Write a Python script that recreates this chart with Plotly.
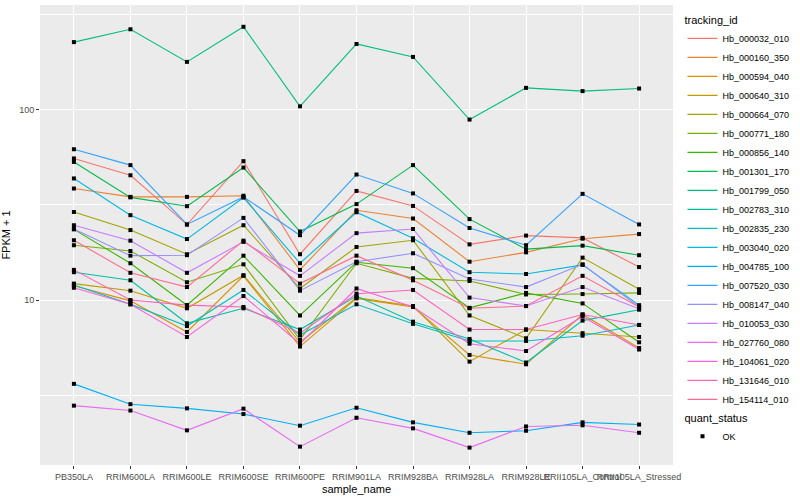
import plotly.graph_objects as go

samples = ["PB350LA", "RRIM600LA", "RRIM600LE", "RRIM600SE", "RRIM600PE", "RRIM901LA",
           "RRIM928BA", "RRIM928LA", "RRIM928LE", "RRII105LA_Control", "RRII105LA_Stressed"]

tracking_ids = ["Hb_000032_010", "Hb_000160_350", "Hb_000594_040", "Hb_000640_310", "Hb_000664_070",
                "Hb_000771_180", "Hb_000856_140", "Hb_001301_170", "Hb_001799_050", "Hb_002783_310",
                "Hb_002835_230", "Hb_003040_020", "Hb_004785_100", "Hb_007520_030", "Hb_008147_040",
                "Hb_010053_030", "Hb_027760_080", "Hb_104061_020", "Hb_131646_010", "Hb_154114_010"]

colors = ["#F8766D", "#EA8331", "#D89000", "#C09B00", "#A3A500", "#7CAE00", "#39B600", "#00BB4E",
          "#00BF7D", "#00C1A3", "#00BFC4", "#00BAE0", "#00B0F6", "#35A2FF", "#9590FF", "#C77CFF",
          "#E76BF3", "#FA62DB", "#FF62BC", "#FF6C91"]

# FPKM + 1 per tracking_id, in sample order
Hb_000032_010 = [55.4, 45.2, 24.9, 53.6, 17.4, 37.4, 31.2, 19.6, 21.8, 21.2, 14.9]
Hb_000160_350 = [38.5, 34.8, 34.8, 35.3, 14.4, 29.6, 26.8, 15.9, 17.8, 21.0, 22.2]
Hb_000594_040 = [11.9, 9.9, 6.8, 13.4, 5.7, 10.2, 9.2, 5.15, 4.6, 8.4, 5.6]
Hb_000640_310 = [12.2, 11.2, 9.05, 13.5, 6.0, 10.3, 9.3, 4.75, 7.0, 6.7, 6.4]
Hb_000664_070 = [29.0, 23.3, 17.4, 24.7, 11.5, 19.0, 20.6, 8.3, 6.3, 16.7, 11.4]
Hb_000771_180 = [19.4, 18.1, 12.4, 15.4, 6.2, 15.6, 13.0, 12.6, 10.7, 10.75, 10.9]
Hb_000856_140 = [23.5, 15.6, 9.4, 17.1, 8.3, 15.8, 14.7, 9.1, 10.9, 9.6, 6.0]
Hb_001301_170 = [53.1, 34.6, 31.1, 49.6, 22.9, 31.9, 51.1, 26.6, 18.5, 19.3, 17.2]
Hb_001799_050 = [226, 264, 178, 272, 104, 221, 189, 88.6, 130, 125, 129]
Hb_002783_310 = [14.0, 12.7, 7.55, 9.05, 7.0, 10.5, 7.7, 6.25, 4.7, 7.8, 8.9]
Hb_002835_230 = [12.0, 9.5, 7.3, 11.3, 6.55, 9.5, 7.5, 6.1, 6.1, 6.5, 7.4]
Hb_003040_020 = [43.5, 27.9, 20.9, 34.5, 15.6, 28.9, 21.1, 14.0, 13.7, 15.3, 9.4]
Hb_004785_100 = [3.63, 2.84, 2.70, 2.52, 2.19, 2.72, 2.28, 2.01, 2.06, 2.28, 2.22]
Hb_007520_030 = [61.9, 51.1, 24.95, 34.8, 21.9, 45.6, 36.3, 23.9, 19.4, 36.1, 24.95]
Hb_008147_040 = [23.6, 17.1, 17.2, 27.0, 11.2, 15.9, 17.6, 12.9, 11.7, 15.4, 9.2]
Hb_010053_030 = [24.7, 20.5, 13.9, 20.2, 13.4, 22.45, 23.6, 10.3, 9.3, 11.7, 9.0]
Hb_027760_080 = [2.79, 2.63, 2.07, 2.69, 1.70, 2.41, 2.12, 1.68, 2.17, 2.20, 2.01]
Hb_104061_020 = [11.6, 9.5, 6.4, 10.5, 5.9, 11.5, 9.2, 5.9, 5.4, 8.2, 5.5]
Hb_131646_010 = [14.4, 10.0, 9.4, 9.2, 6.7, 10.8, 11.3, 7.0, 7.0, 8.4, 7.4]
Hb_154114_010 = [20.6, 13.9, 11.7, 20.5, 12.2, 17.1, 12.7, 9.05, 9.3, 13.4, 9.2]

series = [Hb_000032_010, Hb_000160_350, Hb_000594_040, Hb_000640_310, Hb_000664_070,
          Hb_000771_180, Hb_000856_140, Hb_001301_170, Hb_001799_050, Hb_002783_310,
          Hb_002835_230, Hb_003040_020, Hb_004785_100, Hb_007520_030, Hb_008147_040,
          Hb_010053_030, Hb_027760_080, Hb_104061_020, Hb_131646_010, Hb_154114_010]

quant_status = "OK"

FONT = "Liberation Sans"
fig = go.Figure()

for name, vals, col in zip(tracking_ids, series, colors):
    fig.add_trace(go.Scatter(
        x=samples, y=vals, mode="lines", name=name,
        line=dict(color=col, width=1.1),
        legend="legend",
    ))

all_x, all_y = [], []
for vals in series:
    all_x += samples
    all_y += vals
fig.add_trace(go.Scatter(
    x=all_x, y=all_y, mode="markers", name=quant_status,
    marker=dict(color="black", size=4, symbol="square"),
    legend="legend2",
))

fig.update_layout(
    width=800, height=500,
    margin=dict(l=40, r=117, t=5, b=35),
    paper_bgcolor="white",
    plot_bgcolor="#EBEBEB",
    font=dict(family=FONT, size=9, color="#4D4D4D"),
    showlegend=True,
    legend=dict(
        title=dict(text="tracking_id", font=dict(size=11, color="black", family=FONT)),
        x=1.015, xanchor="left", y=0.99, yanchor="top",
        font=dict(size=9, color="black", family=FONT),
        bgcolor="rgba(0,0,0,0)", itemwidth=30, tracegroupgap=0,
    ),
    legend2=dict(
        title=dict(text="quant_status", font=dict(size=11, color="black", family=FONT)),
        x=1.015, xanchor="left", y=0.125, yanchor="top",
        font=dict(size=9, color="black", family=FONT),
        bgcolor="rgba(0,0,0,0)", itemwidth=30,
    ),
)

fig.update_xaxes(
    type="category", range=[-0.6, 10.6],
    showgrid=True, gridcolor="white", gridwidth=1.1,
    ticks="outside", ticklen=3, tickcolor="#333333", tickwidth=1,
    tickangle=0, tickfont=dict(size=9, color="#4D4D4D", family=FONT),
    showline=False, zeroline=False,
    title=dict(text="sample_name", font=dict(size=11, color="black", family=FONT), standoff=4),
)

fig.update_yaxes(
    type="log", range=[0.134, 2.549],
    tickvals=[10, 100], ticktext=["10", "100"],
    showgrid=True, gridcolor="white", gridwidth=1.1,
    minor=dict(tickvals=[10 ** 0.5, 10 ** 1.5, 10 ** 2.5], showgrid=True,
               gridcolor="white", gridwidth=0.5, ticks=""),
    ticks="outside", ticklen=3, tickcolor="#333333", tickwidth=1,
    tickfont=dict(size=9, color="#4D4D4D", family=FONT),
    showline=False, zeroline=False,
    title=dict(text="FPKM + 1", font=dict(size=11, color="black", family=FONT), standoff=6),
)

fig.write_html("out.html", config={"displayModeBar": False},
               post_script="document.body.style.margin='0';")
